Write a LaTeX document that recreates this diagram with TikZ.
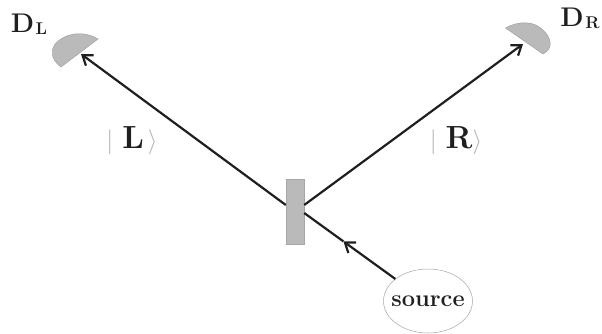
\documentclass[tikz,border=0pt]{standalone}
\usetikzlibrary{arrows.meta,shapes.geometric}
\definecolor{fillgray}{gray}{0.73}
\definecolor{ink}{gray}{0.12}
\newcommand{\ketL}[1]{{\color{gray!60}$|$}\hspace{9pt}\textbf{#1}{\color{gray!60}$\rangle$}}
\newcommand{\detlab}[1]{\fontsize{27}{27}\selectfont\bfseries D\hspace{1.5pt}\raisebox{-2pt}{\fontsize{17}{17}\selectfont #1}}
\tikzset{
  beam/.style={draw=ink,line width=2.2pt},
  beamtip/.style={beam,-{Straight Barb[length=9pt,width=13pt,line width=2.2pt]}},
  detector/.style={fill=fillgray,draw=gray!80,line width=0.4pt},
  lab/.style={inner sep=0pt,text=ink}
}
\begin{document}
\begin{tikzpicture}[x=1pt,y=-1pt]
\useasboundingbox (0,0) rectangle (602,333);
\draw[detector] (98,39) .. controls (85,31) and (68,32) .. (57,42) .. controls (50,49) and (50,59) .. (61,67) -- cycle;
\draw[detector] (505.5,28) .. controls (518,21) and (534,20) .. (544,31) .. controls (552,39) and (553,49) .. (543,54) -- cycle;
\coordinate (tipL) at (81,54);
\coordinate (tipR) at (523,44);
\node[draw=gray!70,fill=fillgray,minimum width=18pt,minimum height=65pt,inner sep=0pt,line width=0.4pt] (bs) at (295,211.5) {};
\node[ellipse,draw=gray!70,line width=0.5pt,minimum width=89pt,minimum height=64pt,inner sep=-8pt,text=ink] (source) at (428,301) {\fontsize{23.6}{24}\selectfont\bfseries source};
\coordinate (outL) at ([yshift=6.5pt]bs.west);
\coordinate (outR) at ([yshift=6.5pt]bs.east);
\coordinate (inS) at ([yshift=-1.5pt]bs.east);
\draw[beamtip] (outL) -- (tipL);
\draw[beamtip] (outR) -- (tipR);
\path (source.146) -- coordinate[pos=0.57] (midS) (inS);
\draw[beamtip] (source.146) -- (midS);
\draw[beam] (midS) -- (inS);
\node[lab] (dl) at (29,24) {\detlab{L}};
\node[lab] (dr) at (580,18) {\detlab{R}};
\node[lab] (kl) at (132,141) {\fontsize{32}{32}\selectfont\ketL{L\hspace{4pt}}};
\node[lab] (kr) at (456,141) {\fontsize{32}{32}\selectfont\ketL{R}};
\end{tikzpicture}
\end{document}
